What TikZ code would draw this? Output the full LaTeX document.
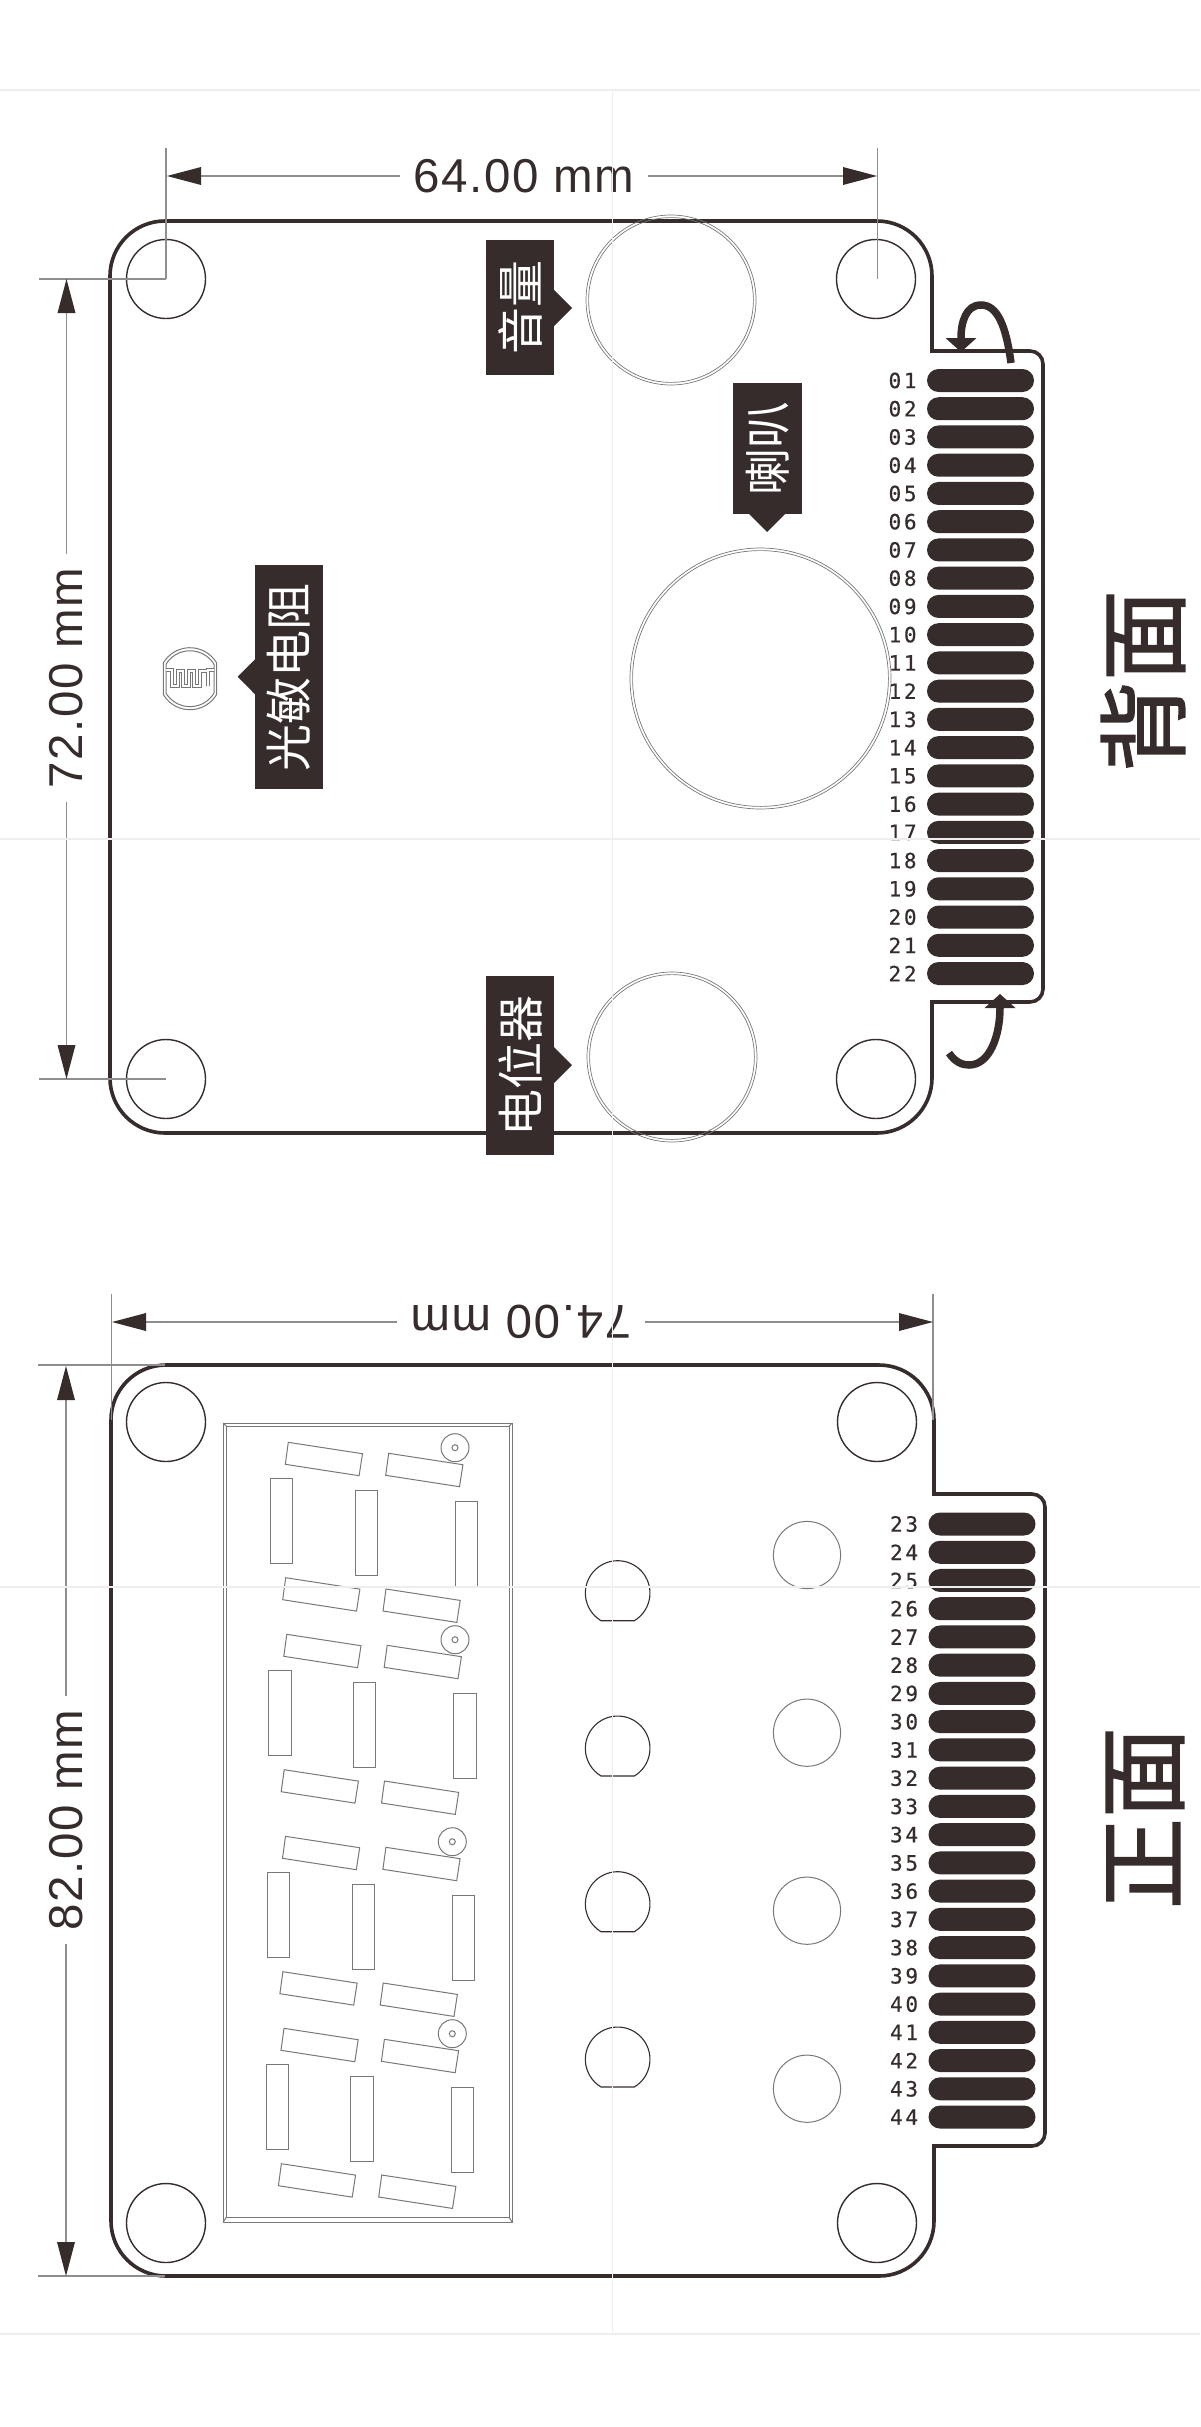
\documentclass[tikz,border=0pt]{standalone}
\usepackage{fontspec}
\setmainfont{Liberation Sans}
\newfontfamily\dimfont[LetterSpace=3.4]{Liberation Sans}
\newfontfamily\pinfont[LetterSpace=13,FakeBold=0.5]{DejaVu Sans Mono}
\newfontfamily\cjkfont{Noto Sans CJK SC}
\newfontfamily\titlefont[FakeBold=1.6]{Noto Sans CJK SC}
\usetikzlibrary{arrows.meta,positioning}
\definecolor{ink}{HTML}{352C2B}
\definecolor{dimgray}{HTML}{8E8E8E}
\definecolor{partgray}{HTML}{787878}
\definecolor{gridgray}{HTML}{EEEEEE}
\tikzset{
  boardline/.style={draw=ink,line width=3.6pt},
  holeline/.style={draw=ink,line width=1.4pt},
  partline/.style={draw=partgray,line width=1pt},
  ringline/.style={draw=partgray,line width=.7pt},
  dimline/.style={draw=dimgray,line width=1.4pt,-{Triangle[length=34pt,width=18pt,line width=0pt,color=ink,fill=ink]}},
  extline/.style={draw=dimgray,line width=1.1pt},
  dimtext/.style={font=\fontsize{47.5}{50}\dimfont,text=ink,inner sep=13pt},
  tagbox/.style={fill=ink,text=white,inner sep=0pt,font=\fontsize{47}{50}\cjkfont},
  sidetitle/.style={text=ink,inner sep=0pt,rotate=90,font=\fontsize{91}{95}\titlefont},
  padbar/.style={fill=ink,rounded corners=11.5pt,minimum width=107pt,minimum height=23pt,inner sep=0pt},
  pinlabel/.style={text=ink,inner sep=0pt,font=\fontsize{21}{22}\pinfont},
  curlarrow/.style={draw=ink,line width=7.5pt,-{Triangle[length=14pt,width=31pt,line width=0pt]}},
  gridline/.style={draw=gridgray,line width=1.6pt}
}
\begin{document}
\begin{tikzpicture}[x=1pt,y=1pt,yscale=-1,xscale=1]
\useasboundingbox (0,0) rectangle (1200,2427);

% back side: outline
\draw [boardline,rounded corners=55pt] (110,221) -- (932,221) [sharp corners] -- (932,351) [rounded corners=13pt] -- (1043,351) -- (1043,1002) [sharp corners] -- (932,1002) [rounded corners=55pt] -- (932,1133) -- (110,1133) -- cycle;
% mounting holes
\foreach \hx/\hy in {166/279,876/279,166/1079,876/1079}
  \draw [holeline] (\hx,\hy) circle [radius=39.5];
% pots and speaker
\foreach \cx/\cy/\cr in {671/300/85,672/1057/85,760.5/678.5/130.5}{
  \draw [ringline] (\cx,\cy) circle [radius=\cr];
  \draw [ringline] (\cx,\cy) circle [radius=\cr-2.6];
}
% light sensor
\draw [partline] (216.5,662.7) arc [start angle=-31.1,end angle=-148.9,radius=31] -- ++(0,32) arc [start angle=148.9,end angle=31.1,radius=31] -- cycle;
\draw [partline] (214,664.3) arc [start angle=-31,end angle=-149,radius=28] -- ++(0,28.8) arc [start angle=149,end angle=31,radius=28] -- cycle;
\draw [draw=partgray,line width=.6pt,double=white,double distance=2pt] (166,670) -- (172,670) -- (172,686) -- (178,686) -- (178,671) -- (183,671) -- (183,686) -- (189,686) -- (189,671) -- (194,671) -- (194,686) -- (200,686) -- (200,671) -- (208,671) -- (208,686) -- (208,670) -- (214,670);

% Text Node
\node [tagbox,rotate=90,minimum width=135pt,minimum height=68pt] (tagvolume) at (520,307.5) {音量};
\fill [ink] (554,290) -- (572,308) -- (554,326) -- cycle;
\node [tagbox,rotate=90,minimum width=131pt,minimum height=69pt] (tagspeaker) at (767.5,448.5) {喇叭};
\fill [ink] (749,514) -- (767,532) -- (785,514) -- cycle;
\node [tagbox,rotate=90,minimum width=179pt,minimum height=68pt] (tagpot) at (520,1065.5) {电位器};
\fill [ink] (554,1047) -- (572,1065) -- (554,1083) -- cycle;
\node [tagbox,rotate=90,minimum width=224pt,minimum height=68pt] (taglight) at (289,677) {光敏电阻};
\fill [ink] (255,659.3) -- (237.7,676.7) -- (255,694.3) -- cycle;

% pads of the back side
\foreach \n [evaluate=\n as \py using {380.5+28.24*(\n-1)}] in {1,...,22}{
  \node [padbar] (backpad\n) at (980.5,\py) {};
  \node [pinlabel,left=10pt of backpad\n] (backpin\n) {\ifnum\n<10 0\fi\n};
}
\draw [curlarrow] (1011,363) .. controls (1006,325) and (997,305) .. (981,305) .. controls (966,305) and (961,322) .. (961,352);
\draw [curlarrow] (949,1053) .. controls (955,1062) and (962,1065) .. (969,1065) .. controls (990,1065) and (1000,1035) .. (1000,994);
\node [sidetitle] (titleback) at (1143,681) {背面};

% back side: dimensions
\draw [extline] (166,148) -- (166,279);
\draw [extline] (877.5,148) -- (877.5,279);
\draw [extline] (39.4,279) -- (166,279);
\draw [extline] (39.4,1079) -- (166,1079);
\node [dimtext] (dimwidth) at (524,176) {64.00 mm};
\coordinate (dimwidthA) at (167,176);
\coordinate (dimwidthB) at (877,176);
\draw [dimline] (dimwidth.west) -- (dimwidthA);
\draw [dimline] (dimwidth.east) -- (dimwidthB);
\node [dimtext,rotate=90] (dimheight) at (66.5,678) {72.00 mm};
\coordinate (dimheightA) at (66.5,279);
\coordinate (dimheightB) at (66.5,1079);
\draw [dimline] (dimheight.east) -- (dimheightA);
\draw [dimline] (dimheight.west) -- (dimheightB);

% front side: outline
\draw [boardline,rounded corners=55pt] (111,1365) -- (934,1365) [sharp corners] -- (934,1494) [rounded corners=13pt] -- (1045,1494) -- (1045,2146) [sharp corners] -- (934,2146) [rounded corners=55pt] -- (934,2276) -- (111,2276) -- cycle;
\foreach \hx/\hy in {166/1422,877/1422,166/2223,877/2223}
  \draw [holeline] (\hx,\hy) circle [radius=39.5];
% display window
\draw [partline] (223.3,1423) rectangle (512,2222);
\draw [partline] (226.5,1426.5) rectangle (509,2217);
\draw [partline] (223.3,1423) -- (226.5,1426.5) (512,1423) -- (509,1426.5) (223.3,2222) -- (226.5,2217) (512,2222) -- (509,2217);
% display digits
\foreach \dx/\dy/\ox in {0/0/0,-1.5/192/0,-2.8/394/-2.7,-4.3/586/-2.7}{
  \begin{scope}[shift={(\dx,\dy)}]
    \foreach \sx/\sy in {288.3/1442.3,388.7/1453.3,285.7/1577.7,386/1589}
      \draw [partline] (\sx,\sy) -- ++(74.2,11.4) -- ++(-3.4,22) -- ++(-73.8,-11.4) -- cycle;
    \foreach \sx/\sy in {270.3/1478.7,355/1490,455.3/1501}
      \draw [partline] (\sx,\sy) rectangle ++(22.4,85);
  \end{scope}
  \draw [partline] (455+\ox,1447.7+\dy) circle [radius=14];
  \draw [partline] (455+\ox,1447.7+\dy) circle [radius=3];
}
% keys and leds
\foreach \ky in {1593,1748.3,1904,2059.3}
  \draw [holeline,line width=1.1pt] (634.3,\ky+27.7) arc [start angle=59,end angle=-239,radius=32.3] -- cycle;
\foreach \ly in {1555,1732.7,1910.7,2088.7}
  \draw [partline] (807,\ly) circle [radius=33.6];

% pads of the front side
\foreach \n [evaluate=\n as \py using {1524+28.24*(\n-23)}] in {23,...,44}{
  \node [padbar] (frontpad\n) at (982,\py) {};
  \node [pinlabel,left=10pt of frontpad\n] (frontpin\n) {\n};
}
\node [sidetitle] (titlefront) at (1145,1818) {正面};

% front side: dimensions
\draw [extline] (111.5,1294) -- (111.5,1420);
\draw [extline] (933,1294) -- (933,1420);
\draw [extline] (38,1365) -- (165,1365);
\draw [extline] (38,2276) -- (165,2276);
\node [dimtext,rotate=180] (dimfrontwidth) at (521,1322) {74.00 mm};
\coordinate (dimfrontwidthA) at (112,1322);
\coordinate (dimfrontwidthB) at (933,1322);
\draw [dimline] (dimfrontwidth.east) -- (dimfrontwidthA);
\draw [dimline] (dimfrontwidth.west) -- (dimfrontwidthB);
\node [dimtext,rotate=90] (dimfrontheight) at (66,1820) {82.00 mm};
\coordinate (dimfrontheightA) at (66,1366);
\coordinate (dimfrontheightB) at (66,2276);
\draw [dimline] (dimfrontheight.east) -- (dimfrontheightA);
\draw [dimline] (dimfrontheight.west) -- (dimfrontheightB);

% guide lines on top of everything
\foreach \gy in {90,839,1587,2334}
  \draw [gridline] (0,\gy) -- (1200,\gy);
\draw [gridline] (612.6,90) -- (612.6,2334);
\end{tikzpicture}
\end{document}
